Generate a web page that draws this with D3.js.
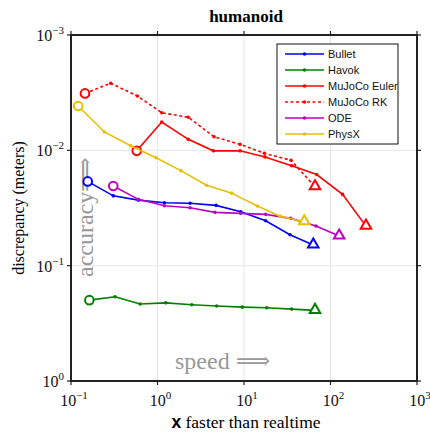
<!DOCTYPE html>
<html>
<head>
<meta charset="utf-8">
<script src="https://cdn.jsdelivr.net/npm/d3@7"></script>
<style>
  body { margin: 0; background: #fff; }
</style>
</head>
<body>
<div id="graphic"></div>
<script>
// speed (x faster than realtime) and discrepancy (meters)
const seriesNames = ["Bullet", "Havok", "MuJoCo Euler", "MuJoCo RK", "ODE", "PhysX"];
const colours = ["#0000ff", "#008000", "#ff0000", "#ff0000", "#bf00bf", "#e6c000"];
const dashed = [false, false, false, true, false, false];

const bulletX = [0.156, 0.308, 0.600, 1.20, 2.38, 4.75, 9.16, 17.8, 34.0, 63.2];
const bulletY = [0.0186, 0.0248, 0.0270, 0.0285, 0.0288, 0.0300, 0.0341, 0.0408, 0.0540, 0.0663];
const havokX = [0.163, 0.323, 0.628, 1.25, 2.49, 4.83, 9.55, 18.3, 35.6, 66.2];
const havokY = [0.199, 0.186, 0.215, 0.210, 0.218, 0.224, 0.229, 0.232, 0.238, 0.244];
const eulerX = [0.575, 1.12, 2.27, 4.42, 9.0, 17.5, 35.6, 69.2, 138, 257];
const eulerY = [0.0101, 0.00568, 0.00803, 0.0101, 0.0101, 0.0114, 0.0136, 0.0162, 0.0241, 0.0454];
const rkX = [0.145, 0.288, 0.585, 1.12, 2.27, 4.5, 9.0, 17.2, 34.9, 66.2];
const rkY = [0.00321, 0.00262, 0.00338, 0.00472, 0.00517, 0.00762, 0.00887, 0.0106, 0.0122, 0.0207];
const odeX = [0.308, 0.600, 1.20, 2.38, 4.62, 9.16, 17.8, 34.7, 67.9, 126];
const odeY = [0.0204, 0.0266, 0.0302, 0.0315, 0.0345, 0.0352, 0.0359, 0.0389, 0.0453, 0.0554];
const physxX = [0.121, 0.243, 0.490, 0.962, 1.86, 3.70, 7.21, 14.3, 26.1, 49.8];
const physxY = [0.00413, 0.00693, 0.00912, 0.0116, 0.0150, 0.0201, 0.0235, 0.0304, 0.0372, 0.0416];

const xTicks = [0.1, 1, 10, 100, 1000];
const yTicks = [0.001, 0.01, 0.1, 1];

const SERIF = '"Liberation Serif", "Times New Roman", "DejaVu Serif", serif';
const SANS = '"Liberation Sans", Arial, "DejaVu Sans", sans-serif';

const allX = [bulletX, havokX, eulerX, rkX, odeX, physxX];
const allY = [bulletY, havokY, eulerY, rkY, odeY, physxY];
const series = seriesNames.map((name, i) => ({
  name: name,
  colour: colours[i],
  dashed: dashed[i],
  values: allX[i].map((x, j) => ({ x: x, y: allY[i][j] }))
}));

const width = 430, height = 434;
const margin = { top: 35, right: 13, bottom: 53, left: 71 };
const chartWidth = width - margin.left - margin.right;
const chartHeight = height - margin.top - margin.bottom;

const svg = d3.select('#graphic').append('svg')
  .attr('width', width).attr('height', height)
  .attr('font-family', SERIF);
const g = svg.append('g').attr('transform', `translate(${margin.left},${margin.top})`);

const x = d3.scaleLog().domain([0.1, 1000]).range([0, chartWidth]);
const y = d3.scaleLog().domain([0.001, 1]).range([0, chartHeight]);

// grid
g.append('g').selectAll('line').data(xTicks.slice(1, -1)).join('line')
  .attr('x1', d => x(d)).attr('x2', d => x(d))
  .attr('y1', 0).attr('y2', chartHeight)
  .attr('stroke', '#e6e6e6').attr('stroke-width', 1);
g.append('g').selectAll('line').data(yTicks.slice(1, -1)).join('line')
  .attr('y1', d => y(d)).attr('y2', d => y(d))
  .attr('x1', 0).attr('x2', chartWidth)
  .attr('stroke', '#e6e6e6').attr('stroke-width', 1);

// gray annotations
g.append('text')
  .attr('transform', `translate(${93 - margin.left},${277 - margin.top}) rotate(-90)`)
  .attr('fill', '#999').attr('font-size', 24)
  .text('accuracy\u27F9');
g.append('text')
  .attr('x', 175 - margin.left).attr('y', 369 - margin.top)
  .attr('fill', '#999').attr('font-size', 24)
  .text('speed \u27F9');

// lines
const line = d3.line().x(d => x(d.x)).y(d => y(d.y));
const sg = g.append('g').selectAll('g').data(series).join('g');
sg.append('path')
  .attr('d', d => line(d.values))
  .attr('fill', 'none')
  .attr('stroke', d => d.colour)
  .attr('stroke-width', 1.6)
  .attr('stroke-dasharray', d => d.dashed ? '3,2.5' : null);
sg.selectAll('circle.dot').data(d => d.values.slice(1, -1).map(v => ({ v: v, c: d.colour }))).join('circle')
  .attr('class', 'dot')
  .attr('cx', d => x(d.v.x)).attr('cy', d => y(d.v.y))
  .attr('r', 1.8).attr('fill', d => d.c);
sg.append('circle')
  .attr('cx', d => x(d.values[0].x)).attr('cy', d => y(d.values[0].y))
  .attr('r', 4.3).attr('fill', '#fff')
  .attr('stroke', d => d.colour).attr('stroke-width', 2);
sg.append('path')
  .attr('d', d3.symbol().type(d3.symbolTriangle).size(48))
  .attr('transform', d => {
    const last = d.values[d.values.length - 1];
    return `translate(${x(last.x)},${y(last.y) - 0.5})`;
  })
  .attr('fill', '#fff')
  .attr('stroke', d => d.colour).attr('stroke-width', 2);

// frame and ticks
g.append('rect').attr('width', chartWidth).attr('height', chartHeight)
  .attr('fill', 'none').attr('stroke', '#222').attr('stroke-width', 2);
const tk = g.append('g').attr('stroke', '#222').attr('stroke-width', 1.2);
xTicks.forEach(t => {
  tk.append('line').attr('x1', x(t)).attr('x2', x(t)).attr('y1', -4).attr('y2', 0);
  tk.append('line').attr('x1', x(t)).attr('x2', x(t)).attr('y1', chartHeight).attr('y2', chartHeight + 4);
});
yTicks.forEach(t => {
  tk.append('line').attr('y1', y(t)).attr('y2', y(t)).attr('x1', -4).attr('x2', 0);
  tk.append('line').attr('y1', y(t)).attr('y2', y(t)).attr('x1', chartWidth).attr('x2', chartWidth + 4);
});

// tick labels with superscripts
function powLabel(sel, v) {
  const e = Math.round(Math.log10(v));
  sel.append('tspan').text('10');
  sel.append('tspan').attr('font-size', 11).attr('dy', -7).text(e < 0 ? '\u2212' + (-e) : String(e));
}
xTicks.forEach(t => {
  const txt = g.append('text').attr('x', x(t) + 3).attr('y', chartHeight + 25)
    .attr('text-anchor', 'middle').attr('font-size', 16).attr('fill', '#111');
  powLabel(txt, t);
});
yTicks.forEach(t => {
  const txt = g.append('text').attr('x', -7).attr('y', y(t) + 6)
    .attr('text-anchor', 'end').attr('font-size', 16).attr('fill', '#111');
  powLabel(txt, t);
});

// titles
svg.append('text').attr('x', 246).attr('y', 22).attr('text-anchor', 'middle')
  .attr('font-size', 17).attr('font-weight', 'bold').text('humanoid');
svg.append('text')
  .attr('transform', `translate(24,${margin.top + chartHeight / 2}) rotate(-90)`)
  .attr('text-anchor', 'middle').attr('font-size', 16).text('discrepancy (meters)');
const xl = svg.append('text').attr('x', margin.left + chartWidth / 2 + 2).attr('y', 428)
  .attr('text-anchor', 'middle').attr('font-size', 17.5);
xl.append('tspan').attr('font-family', SANS).attr('font-weight', 'bold').text('x');
xl.append('tspan').text(' faster than realtime');

// legend
const lg = svg.append('g').attr('transform', 'translate(277,44)');
lg.append('rect').attr('width', 121).attr('height', 100)
  .attr('fill', '#fff').attr('stroke', '#111').attr('stroke-width', 1);
const li = lg.selectAll('g.item').data(series).join('g').attr('class', 'item')
  .attr('transform', (d, i) => `translate(0,${10 + i * 16})`);
li.append('line').attr('x1', 8).attr('x2', 47)
  .attr('stroke', d => d.colour).attr('stroke-width', 1.6)
  .attr('stroke-dasharray', d => d.dashed ? '3,2.5' : null);
li.append('circle').attr('cx', 27.5).attr('r', 1.8).attr('fill', d => d.colour);
li.append('text').attr('x', 51).attr('y', 4)
  .attr('font-family', SANS).attr('font-size', 11)
  .attr('fill', '#111').text(d => d.name);
</script>
</body>
</html>
